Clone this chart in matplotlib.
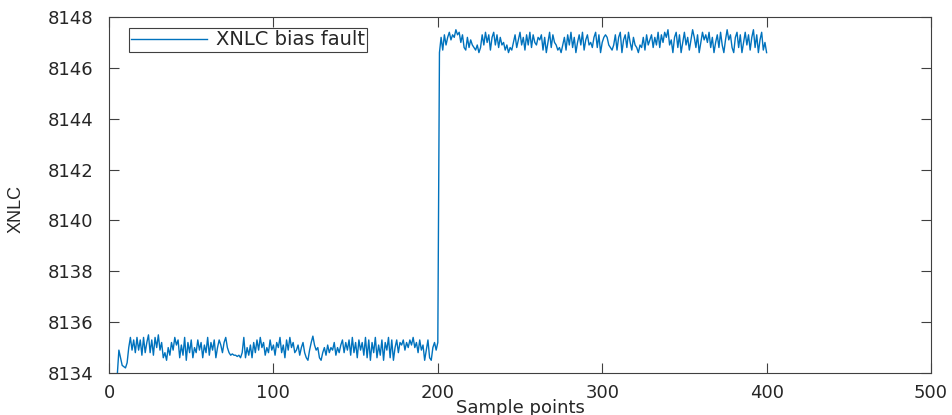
import numpy as np
import matplotlib
matplotlib.use("Agg")
import matplotlib.pyplot as plt

# ---------------- data ----------------
low_segment = [
    8133.2, 8133.5, 8133.7, 8133.8, 8133.9,
    8134.9, 8134.6, 8134.3, 8134.25, 8134.2, 8134.4, 8135.0, 8135.4, 8134.9, 8135.3,
    8134.8, 8135.4, 8134.9, 8135.3, 8134.7, 8135.4, 8134.8, 8135.2, 8135.5, 8134.8,
    8135.3, 8134.7, 8135.4, 8135.0, 8135.5, 8134.9, 8135.2, 8134.6, 8134.8, 8134.5,
    8135.0, 8134.7, 8135.2, 8134.9, 8135.4, 8135.1, 8135.3, 8134.6, 8135.1, 8134.7,
    8135.4, 8134.5, 8135.2, 8134.8, 8135.3, 8134.6, 8135.0, 8134.8, 8135.3, 8134.9,
    8135.2, 8134.6, 8135.1, 8134.8, 8135.4, 8134.7, 8135.2, 8134.9, 8135.3, 8134.6,
    8135.0, 8135.3, 8135.1, 8134.8, 8135.2, 8135.4, 8135.0, 8134.8, 8134.7, 8134.75,
    8134.7, 8134.7, 8134.65, 8134.7, 8134.6, 8134.8, 8135.4, 8134.6, 8135.0, 8134.7,
    8135.1, 8134.6, 8135.2, 8134.8, 8135.3, 8134.9, 8135.4, 8135.0, 8135.2, 8134.7,
    8135.0, 8134.8, 8135.3, 8134.9, 8135.1, 8134.7, 8135.2, 8135.0, 8135.4, 8134.8,
    8135.1, 8134.6, 8135.3, 8134.9, 8135.4, 8135.0, 8135.2, 8134.8, 8134.9, 8135.1,
    8134.7, 8135.0, 8135.2, 8134.8, 8134.6, 8134.5, 8134.9, 8135.2, 8135.45, 8135.1,
    8134.9, 8135.0, 8134.6, 8134.5, 8134.8, 8135.0, 8134.7, 8135.1, 8134.8, 8135.0,
    8134.9, 8135.2, 8134.7, 8135.0, 8134.8, 8135.1, 8135.3, 8134.8, 8135.2, 8134.9,
    8135.3, 8134.7, 8135.4, 8134.8, 8135.2, 8134.6, 8135.3, 8134.9, 8135.2, 8134.7,
    8135.4, 8134.6, 8135.3, 8134.5, 8135.2, 8134.8, 8135.4, 8134.6, 8135.1, 8134.7,
    8135.3, 8134.5, 8135.2, 8134.9, 8135.4, 8134.6, 8135.3, 8134.5, 8135.0, 8135.3,
    8134.8, 8135.2, 8135.1, 8135.3, 8134.9, 8135.2, 8135.0, 8135.3, 8135.1, 8135.4,
    8135.0, 8135.2, 8134.8, 8135.3, 8134.9, 8135.1, 8134.5, 8134.9, 8135.3, 8134.6,
    8134.5, 8135.0, 8135.2, 8134.9, 8135.2,
]

high_segment = [
    8146.6, 8147.2, 8146.7, 8147.3, 8146.9, 8147.2, 8147.4, 8147.1, 8147.3, 8147.2,
    8147.5, 8147.3, 8147.4, 8147.0, 8147.3, 8146.8, 8146.7, 8147.2, 8146.8, 8147.1,
    8146.9, 8146.8, 8146.7, 8146.9, 8146.6, 8146.8, 8147.3, 8146.9, 8147.4, 8147.0,
    8147.3, 8146.7, 8147.2, 8147.4, 8146.9, 8147.3, 8146.8, 8147.2, 8146.9, 8147.0,
    8146.7, 8146.9, 8146.6, 8146.8, 8146.7, 8147.0, 8147.3, 8146.8, 8147.1, 8147.4,
    8146.9, 8147.2, 8146.7, 8147.3, 8146.9, 8147.4, 8146.8, 8147.3, 8147.0, 8146.9,
    8147.2, 8147.1, 8147.3, 8146.7, 8147.2, 8146.6, 8147.0, 8147.4, 8146.8, 8147.3,
    8147.0, 8146.9, 8146.7, 8146.8, 8146.6, 8146.9, 8147.2, 8146.7, 8147.3, 8146.9,
    8147.4, 8146.8, 8147.2, 8146.6, 8147.0, 8147.3, 8146.9, 8147.4, 8146.7, 8147.1,
    8147.3, 8146.9, 8147.0, 8146.8, 8147.2, 8147.4, 8146.8, 8147.3, 8146.6, 8147.0,
    8147.2, 8147.3, 8147.2, 8146.9, 8146.8, 8146.7, 8146.9, 8147.3, 8146.7, 8147.2,
    8147.4, 8146.6, 8147.1, 8147.3, 8146.8, 8147.4, 8147.0, 8146.7, 8147.2, 8146.9,
    8146.8, 8146.6, 8146.9, 8146.8, 8147.2, 8146.7, 8147.3, 8146.9, 8147.1, 8147.3,
    8146.8, 8147.2, 8146.9, 8147.4, 8146.8, 8147.3, 8147.0, 8147.4, 8147.2, 8147.5,
    8146.9, 8147.1, 8146.6, 8147.2, 8147.4, 8146.8, 8147.3, 8146.6, 8147.0, 8147.4,
    8146.9, 8147.2, 8146.7, 8147.1, 8147.5, 8147.2, 8146.8, 8147.3, 8146.6, 8147.0,
    8147.4, 8147.1, 8147.3, 8147.0, 8147.4, 8146.8, 8147.2, 8146.6, 8147.0, 8147.3,
    8146.8, 8147.4, 8146.9, 8146.6, 8147.1, 8147.5, 8147.1, 8147.3, 8146.8, 8146.6,
    8147.2, 8147.4, 8146.8, 8147.3, 8146.6, 8147.0, 8147.4, 8146.9, 8147.3, 8146.7,
    8147.2, 8147.5, 8146.8, 8147.3, 8146.6, 8147.1, 8147.4, 8146.7, 8147.0, 8146.6,
]

signal = low_segment + high_segment
sample_index = np.arange(1, len(signal) + 1)

series_label = "XNLC bias fault"
x_label = "Sample points"
y_label = "XNLC"
x_ticks = [0, 100, 200, 300, 400, 500]
y_ticks = [8134, 8136, 8138, 8140, 8142, 8144, 8146, 8148]

# ---------------- figure ----------------
line_color = "#0072BD"
axis_color = "#404040"
text_color = "#262626"

fig = plt.figure(figsize=(9.53, 4.15), dpi=100)
ax = fig.add_axes([0.1144, 0.1012, 0.8625, 0.8578])

ax.plot(sample_index, signal, color=line_color, linewidth=1.0, label=series_label)

ax.set_xlim(0, 500)
ax.set_ylim(8134, 8148)
ax.set_xticks(x_ticks)
ax.set_yticks(y_ticks)
ax.ticklabel_format(useOffset=False, style="plain")

tick_font = {"family": ["DejaVu Sans"], "size": 13}
ax.set_xticklabels([str(t) for t in x_ticks], fontdict=tick_font, color=text_color)
ax.set_yticklabels([str(t) for t in y_ticks], fontdict=tick_font, color=text_color)

ax.tick_params(direction="in", length=7, width=0.8, color=axis_color,
               top=True, right=True, pad=8)
ax.tick_params(axis="y", pad=11)
for sp in ax.spines.values():
    sp.set_color(axis_color)
    sp.set_linewidth(0.8)

ax.set_xlabel(x_label, fontsize=13, family=["DejaVu Sans"], color=text_color)
ax.xaxis.set_label_coords(0.5, -0.072)
ax.xaxis.label.set_va("top")

ax.set_ylabel(y_label, fontsize=13, family=["Liberation Sans Narrow", "Liberation Sans"],
              color=text_color)
ax.yaxis.set_label_coords(-0.103, 0.46)

leg = ax.legend(loc="upper left", bbox_to_anchor=(0.0243, 0.969), borderaxespad=0,
                fancybox=False, framealpha=1, edgecolor=axis_color,
                prop={"family": ["DejaVu Sans"], "size": 14},
                handlelength=3.9, borderpad=0.12, handletextpad=0.45)
leg.get_frame().set_linewidth(0.8)
for t in leg.get_texts():
    t.set_color(text_color)

fig.savefig("out.png", dpi=100)
